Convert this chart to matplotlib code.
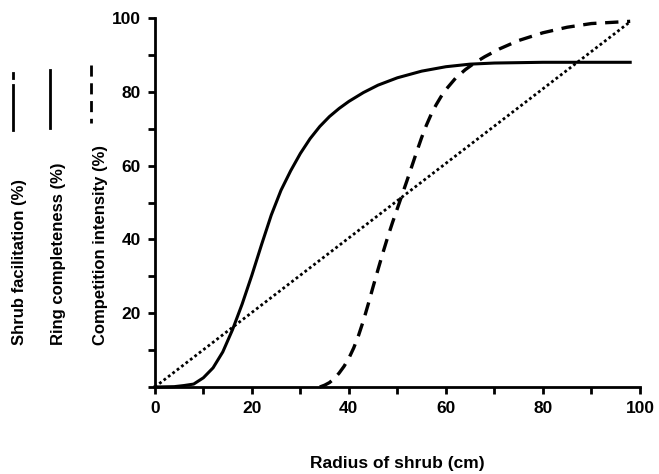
import matplotlib
matplotlib.use('Agg')
import matplotlib.pyplot as plt
from matplotlib.lines import Line2D

plt.rcParams['font.family'] = ['Liberation Sans', 'DejaVu Sans']

# Shrub facilitation (%) - straight dotted line
fac_x = [0, 98]
fac_y = [0, 99]

# Ring completeness (%) - solid sigmoid
ring_x = [0, 4, 6, 8, 10, 12, 14, 16, 18, 20, 22, 24, 26, 28, 30, 32, 34, 36, 38,
          40, 43, 46, 50, 55, 60, 65, 70, 80, 90, 98]
ring_y = [0, 0.1, 0.4, 0.8, 2.5, 5.2, 9.5, 15.5, 22.5, 30.3, 38.6, 46.6, 53.3, 58.6,
          63.3, 67.3, 70.6, 73.3, 75.5, 77.4, 79.8, 81.8, 83.8, 85.6, 86.8, 87.5,
          87.8, 88, 88, 88]

# Competition intensity (%) - dashed sigmoid
comp_x = [34, 35, 36, 37, 38, 39, 40, 41, 42, 43, 44, 45, 46, 47, 48, 49, 50, 51,
          52, 53, 54, 55, 56, 57, 58, 59, 60, 62, 64, 66, 68, 71, 75, 80, 85, 90, 98]
comp_y = [0, 0.5, 1.2, 2.3, 3.8, 5.6, 7.8, 10.6, 14, 18, 22.5, 27.2, 31.8, 36.3,
          40.6, 44.6, 48.4, 52.2, 56, 59.9, 63.8, 67.6, 71, 74, 76.5, 78.7, 80.6,
          83.7, 86, 87.9, 89.5, 91.6, 93.9, 96, 97.5, 98.5, 99.1]

ticks = list(range(0, 101, 10))
xlabels = [str(t) if t % 20 == 0 else '' for t in ticks]
ylabels = [str(t) if (t % 20 == 0 and t > 0) else '' for t in ticks]

fig = plt.figure(figsize=(6.59, 4.74), dpi=100)
ax = fig.add_axes([0.235, 0.1835, 0.736, 0.7785])

ax.plot(fac_x, fac_y, color='black', lw=2.0, linestyle=(0, (1, 1.0)), clip_on=False)
ax.plot(ring_x, ring_y, color='black', lw=2.2, clip_on=False)
ax.plot(comp_x, comp_y, color='black', lw=2.4, linestyle=(0, (4, 2.6)), clip_on=False)

ax.set_xlim(0, 100)
ax.set_ylim(0, 100)
ax.set_xticks(ticks)
ax.set_xticklabels(xlabels)
ax.set_yticks(ticks)
ax.set_yticklabels(ylabels)
for s in ['top', 'right']:
    ax.spines[s].set_visible(False)
for s in ['left', 'bottom']:
    ax.spines[s].set_linewidth(2)
ax.tick_params(direction='out', length=5, width=2, labelsize=12.5, pad=5)
for lab in ax.get_xticklabels() + ax.get_yticklabels():
    lab.set_fontweight('bold')

ax.set_xlabel('Radius of shrub (cm)', fontsize=12.5, fontweight='bold', labelpad=29)

# rotated labels with line samples on the left
names = ['Shrub facilitation (%)', 'Ring completeness (%)', 'Competition intensity (%)']
text_x = [20, 59, 100]
line_x = [13, 50, 91]
for name, tx in zip(names, text_x):
    fig.text(tx / 659, 0.272, name, rotation=90, ha='center', va='bottom',
             fontsize=12, fontweight='bold')


def vline(x, y0, y1, st='-'):
    fig.add_artist(Line2D([x / 659, x / 659], [1 - y0 / 474, 1 - y1 / 474],
                          color='black', lw=2.0, linestyle=st,
                          transform=fig.transFigure))


vline(line_x[0], 73, 78)
vline(line_x[0], 85, 130)
vline(line_x[1], 70, 128)
vline(line_x[2], 65, 123, (0, (4, 2.4)))

fig.savefig('out.png', dpi=100)
